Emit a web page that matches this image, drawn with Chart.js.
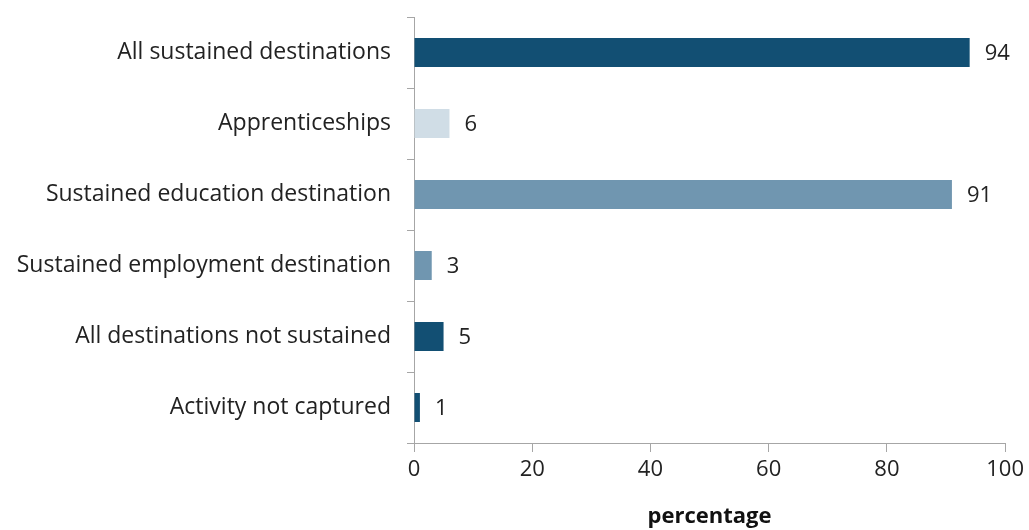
<!DOCTYPE html>
<html><head><meta charset="utf-8">
<script src="https://cdn.jsdelivr.net/npm/chart.js@4/dist/chart.umd.min.js"></script>
<style>html,body{margin:0;padding:0;background:#fff}#wrap{width:1029px;height:530px}</style>
</head><body><div id="wrap"><canvas id="c" width="1029" height="530"></canvas></div>
<script>
const categories = ["All sustained destinations","Apprenticeships","Sustained education destination","Sustained employment destination","All destinations not sustained","Activity not captured"];
const values = [94, 6, 91, 3, 5, 1];
const barColors = ["#124f73", "#d0dde6", "#7096b0", "#7096b0", "#124f73", "#124f73"];
const xTicks = [0, 20, 40, 60, 80, 100];
const xTitle = "percentage";

const FONT = "'Open Sans', 'Noto Sans', sans-serif";
const labelPlugin = {
  id: 'vlabels',
  afterDatasetsDraw(chart) {
    const ctx = chart.ctx;
    const meta = chart.getDatasetMeta(0);
    ctx.save();
    ctx.font = "22px " + FONT;
    ctx.fillStyle = "#222";
    ctx.textBaseline = "middle";
    ctx.textAlign = "left";
    meta.data.forEach((bar, i) => {
      ctx.fillText(String(values[i]), bar.x + 15, bar.y + 1);
    });
    ctx.restore();
  }
};

new Chart(document.getElementById('c'), {
  type: 'bar',
  data: { labels: categories, datasets: [{ data: values, backgroundColor: barColors, borderWidth: 0, barPercentage: 0.41, categoryPercentage: 1 }] },
  options: {
    indexAxis: 'y',
    responsive: false,
    animation: false,
    layout: { padding: { top: 17, right: 22, left: 0, bottom: 0 } },
    plugins: { legend: { display: false }, tooltip: { enabled: false } },
    scales: {
      x: {
        min: 0, max: 100,
        afterBuildTicks: s => { s.ticks = xTicks.map(v => ({ value: v })); },
        afterFit: s => { s.height = 87; },
        grid: { drawOnChartArea: false, tickLength: 9, tickColor: "#a6a6a6", lineWidth: 1 },
        border: { color: "#a6a6a6", width: 1 },
        ticks: { font: { family: FONT, size: 22 }, color: "#222", padding: 5, maxRotation: 0 },
        title: { display: true, text: xTitle, font: { family: FONT, size: 22, weight: 'bold' }, color: "#111", padding: { top: 9, bottom: 0 } }
      },
      y: {
        afterFit: s => { s.width = 414; s.paddingTop = 0; s.paddingBottom = 0; },
        grid: { drawOnChartArea: false, tickLength: 7, tickColor: "#a6a6a6", offset: true },
        border: { color: "#a6a6a6", width: 1 },
        ticks: { font: { family: FONT, size: 23 }, color: "#222", padding: 16 }
      }
    }
  },
  plugins: [labelPlugin]
});
</script></body></html>
